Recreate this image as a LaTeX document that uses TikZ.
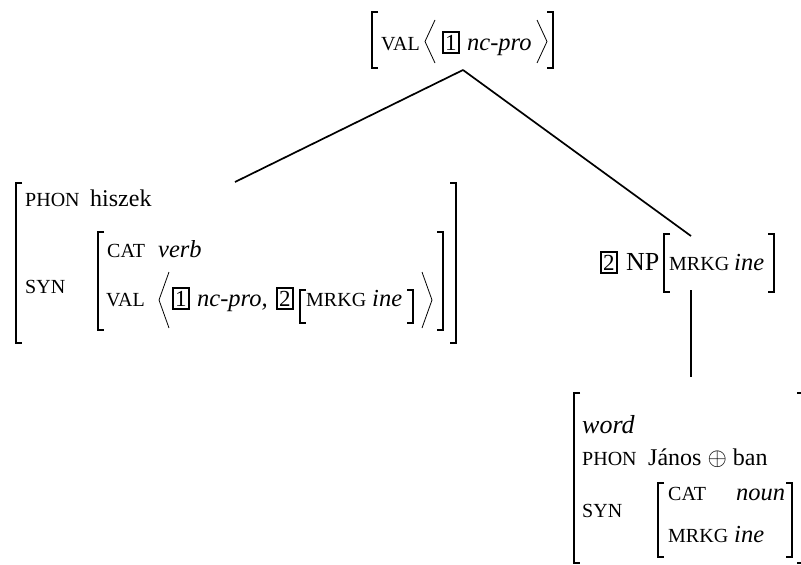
\documentclass[tikz,border=0pt]{standalone}
\usepackage{fontspec}
\setmainfont{Liberation Serif}
\begin{document}
\begin{tikzpicture}[x=1pt,y=-1pt,
  feat/.style={anchor=base west,inner sep=0pt,font=\fontsize{20}{23}\selectfont},
  val/.style={anchor=base west,inner sep=0pt,font=\fontsize{24}{28}\selectfont},
  ival/.style={anchor=base west,inner sep=0pt,font=\fontsize{24.5}{28}\selectfont\itshape},
  tag/.style={anchor=base west,draw,line width=1.8pt,inner xsep=2.2pt,inner ysep=2.6pt,font=\fontsize{23}{26}\selectfont},
  brk/.style={line width=1.5pt},
  ang/.style={line width=0.8pt},
  edge/.style={line width=1.7pt}]
\useasboundingbox (0,0) rectangle (801,565);
\clip (0,0) rectangle (801,565);
% helpers
\newcommand{\lbrk}[3]{\draw[brk] (#1+6,#2) -- (#1,#2) -- (#1,#3) -- (#1+6,#3);}
\newcommand{\rbrk}[3]{\draw[brk] (#1-6,#2) -- (#1,#2) -- (#1,#3) -- (#1-6,#3);}
\newcommand{\langl}[3]{\draw[ang] (#1+10,#2) -- (#1,#2/2+#3/2) -- (#1+10,#3);}
\newcommand{\rangl}[3]{\draw[ang] (#1,#2) -- (#1+10,#2/2+#3/2) -- (#1,#3);}
% ---- top AVM
\lbrk{372}{12}{68}\rbrk{553}{12}{68}
\node[feat] (tval) at (381,50) {VAL};
\langl{425}{20}{63}
\node[tag] (tb1) at (442,50) {1};
\node[ival] (tnc) at (467,50) {nc-pro};
\rangl{537}{20}{63}
\coordinate (apex) at (463,70);
% ---- left AVM
\lbrk{16}{183}{343}\rbrk{456}{183}{343}
\coordinate (lroot) at (235,182);
\node[feat] (lphon) at (25,206) {PHON};
\node[val] (lhis) at (90,206) {hiszek};
\node[feat] (lsyn) at (25,293) {SYN};
\lbrk{98}{232}{330}\rbrk{443}{232}{330}
\node[feat] (lcat) at (107,257) {CAT};
\node[ival] (lverb) at (158,257) {verb};
\node[feat] (lval) at (106,306) {VAL};
\langl{159}{272}{328}
\node[tag] (lb1) at (172,306) {1};
\node[ival] (lnc) at (197,306) {nc-pro,};
\node[tag] (lb2) at (276,306) {2};
\lbrk{300}{290}{323}
\node[feat] (lmrkg) at (306,306) {MRKG};
\node[ival] (line) at (372,306) {ine};
\rbrk{413}{290}{323}
\rangl{422}{272}{328}
% ---- NP node
\node[tag] (nb2) at (600,270) {2};
\node[val,font=\fontsize{26}{30}\selectfont] (np) at (626,270) {NP};
\lbrk{664}{234}{292}
\node[feat] (nmrkg) at (669,270) {MRKG};
\node[ival] (nine) at (734,270) {ine};
\rbrk{774}{234}{292}
\coordinate (nptop) at (691,236);
\coordinate (npbot) at (691,290);
% ---- bottom AVM
\lbrk{574}{393}{563}\rbrk{803}{393}{563}
\coordinate (wtop) at (691,377);
\node[ival,font=\fontsize{26}{30}\selectfont\itshape] (bword) at (582,433) {word};
\node[feat] (bphon) at (582,465) {PHON};
\node[val] (bjan) at (648,465) {János $\oplus$ ban};
\node[feat] (bsyn) at (582,517) {SYN};
\lbrk{658}{483}{557}\rbrk{792}{483}{557}
\node[feat] (bcat) at (668,500) {CAT};
\node[ival] (bnoun) at (736,500) {noun};
\node[feat] (bmrkg) at (668,542) {MRKG};
\node[ival] (bine) at (734,542) {ine};
% ---- edges
\draw[edge] (apex) -- (lroot);
\draw[edge] (apex) -- (nptop);
\draw[edge] (npbot) -- (wtop);
\end{tikzpicture}
\end{document}
